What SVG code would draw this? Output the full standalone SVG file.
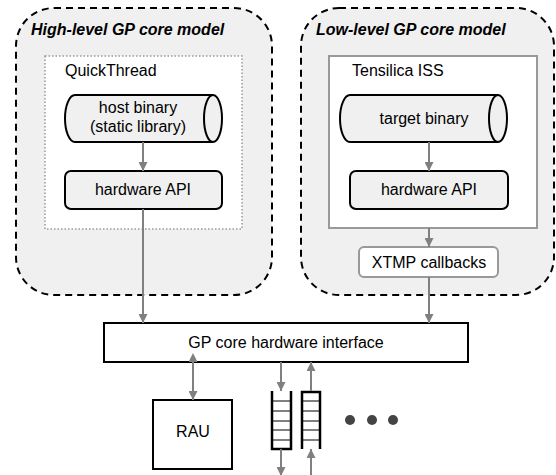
<svg xmlns="http://www.w3.org/2000/svg" width="556" height="475" viewBox="0 0 556 475">
<defs>
<marker id="ah" viewBox="0 0 10 10" refX="10" refY="5" markerWidth="9" markerHeight="9" markerUnits="userSpaceOnUse" orient="auto">
<path d="M0,0 L10,5 L0,10 Z" fill="#808080"/>
</marker>
<marker id="ahs" viewBox="0 0 10 10" refX="0" refY="5" markerWidth="9" markerHeight="9" markerUnits="userSpaceOnUse" orient="auto-start-reverse">
<path d="M0,0 L10,5 L0,10 Z" fill="#808080"/>
</marker>
</defs>
<style>
text{font-family:"Liberation Sans",Arial,sans-serif;font-size:16px;fill:#000}
.title{font-weight:bold;font-style:italic}
.mid{text-anchor:middle}
.group{fill:#f0f0f0;stroke:#000;stroke-width:2;stroke-dasharray:7,5}
.node{fill:#f0f0f0;stroke:#000;stroke-width:2}
.conn{stroke:#808080;stroke-width:2;fill:none}
.rung{stroke:#808080;stroke-width:2}
.frame{stroke:#000;stroke-width:2.5;fill:none}
</style>
<rect width="556" height="475" fill="#fff"/>

<g id="high-level">
<rect class="group" x="16" y="8" width="256" height="287" rx="38"/>
<text class="title" x="31" y="35">High-level GP core model</text>
</g>
<g id="low-level">
<rect class="group" x="301" y="8" width="253" height="287" rx="38"/>
<text class="title" x="316" y="35">Low-level GP core model</text>
</g>

<g id="quickthread">
<rect x="45" y="56" width="197" height="173" fill="#fff" stroke="#999" stroke-width="1.5" stroke-dasharray="1.5,2"/>
<text x="65" y="76">QuickThread</text>
</g>
<g id="tensilica">
<rect x="329" y="56" width="208" height="172" fill="#fff" stroke="#999" stroke-width="2"/>
<text x="352" y="76">Tensilica ISS</text>
</g>

<g id="host-binary">
<path class="node" d="M75,95 L213,95 A9,23.5 0 0 1 213,142 L75,142 A10,23.5 0 0 1 75,95 Z"/>
<path class="node" d="M213,95 A9,23.5 0 0 0 213,142" fill="none"/>
<text class="mid" x="138" y="113">host binary</text>
<text class="mid" x="138" y="132">(static library)</text>
</g>
<g id="hw-api-left">
<rect class="node" x="65" y="171" width="157" height="38" rx="6"/>
<text class="mid" x="143" y="195">hardware API</text>
</g>

<g id="target-binary">
<path class="node" d="M350,95 L498,95 A9,23.5 0 0 1 498,142 L350,142 A10,23.5 0 0 1 350,95 Z"/>
<path class="node" d="M498,95 A9,23.5 0 0 0 498,142" fill="none"/>
<text class="mid" x="424" y="124">target binary</text>
</g>
<g id="hw-api-right">
<rect class="node" x="350" y="171" width="158" height="38" rx="6"/>
<text class="mid" x="429" y="195">hardware API</text>
</g>

<g id="xtmp">
<rect x="359" y="247" width="139" height="30" rx="5" fill="#fff" stroke="#999" stroke-width="2"/>
<text class="mid" x="429" y="268">XTMP callbacks</text>
</g>

<g id="gp-interface">
<rect x="104" y="323" width="364" height="39" fill="#fff" stroke="#000" stroke-width="2"/>
<text class="mid" x="286" y="348">GP core hardware interface</text>
</g>

<g id="rau">
<rect x="153" y="400" width="79" height="69" fill="#fff" stroke="#000" stroke-width="2"/>
<text class="mid" x="193" y="437">RAU</text>
</g>

<g id="fifo-out">
<line class="rung" x1="272" y1="401" x2="291" y2="401"/>
<line class="rung" x1="272" y1="411" x2="291" y2="411"/>
<line class="rung" x1="272" y1="421" x2="291" y2="421"/>
<line class="rung" x1="272" y1="430" x2="291" y2="430"/>
<line class="rung" x1="272" y1="440" x2="291" y2="440"/>
<path class="frame" d="M272,391 L272,449 L291,449 L291,391"/>
</g>
<g id="fifo-in">
<line class="rung" x1="302" y1="401" x2="320" y2="401"/>
<line class="rung" x1="302" y1="411" x2="320" y2="411"/>
<line class="rung" x1="302" y1="421" x2="320" y2="421"/>
<line class="rung" x1="302" y1="430" x2="320" y2="430"/>
<line class="rung" x1="302" y1="440" x2="320" y2="440"/>
<path class="frame" d="M302,449 L302,392 L320,392 L320,449"/>
</g>

<g id="ellipsis" fill="#444">
<circle cx="350" cy="420" r="5"/>
<circle cx="372" cy="420" r="5"/>
<circle cx="393" cy="420" r="5"/>
</g>

<g id="connectors">
<line class="conn" x1="143" y1="142" x2="143" y2="171" marker-end="url(#ah)"/>
<line class="conn" x1="143" y1="209" x2="143" y2="323" marker-end="url(#ah)"/>
<line class="conn" x1="429" y1="142" x2="429" y2="171" marker-end="url(#ah)"/>
<line class="conn" x1="429" y1="228" x2="429" y2="247" marker-end="url(#ah)"/>
<line class="conn" x1="429" y1="277" x2="429" y2="323" marker-end="url(#ah)"/>
<line class="conn" x1="193" y1="362" x2="193" y2="400" marker-start="url(#ahs)" marker-end="url(#ah)"/>
<line class="conn" x1="281" y1="362" x2="281" y2="391" marker-end="url(#ah)"/>
<line class="conn" x1="281" y1="449" x2="281" y2="476" marker-end="url(#ah)"/>
<line class="conn" x1="311" y1="391" x2="311" y2="362" marker-end="url(#ah)"/>
<line class="conn" x1="311" y1="475" x2="311" y2="449" marker-end="url(#ah)"/>
</g>
</svg>
